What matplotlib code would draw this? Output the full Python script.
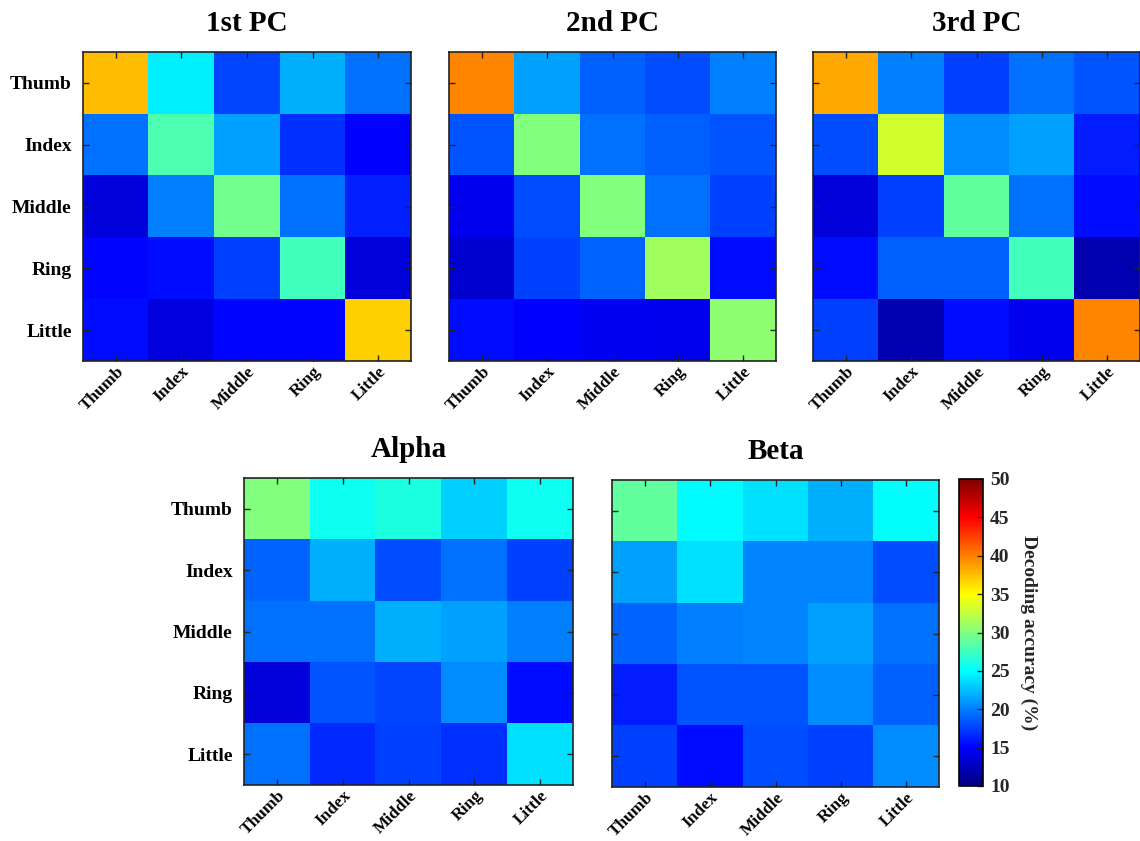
import numpy as np
import matplotlib
matplotlib.use('Agg')
import matplotlib.pyplot as plt
from matplotlib.colors import LinearSegmentedColormap, Normalize
import matplotlib.cm as cm

fingers = ['Thumb', 'Index', 'Middle', 'Ring', 'Little']

pc1 = [[37.5, 24.4, 17.8, 21.9, 19.4],
       [19.4, 28.1, 21.3, 16.9, 15.0],
       [13.7, 20.0, 29.4, 19.4, 16.3],
       [15.3, 15.6, 17.5, 27.5, 13.7],
       [15.5, 13.8, 15.2, 15.2, 36.8]]

pc2 = [[39.7, 21.3, 18.8, 18.1, 20.0],
       [18.4, 30.0, 19.4, 18.8, 18.4],
       [14.4, 18.1, 30.0, 19.4, 17.5],
       [13.2, 17.5, 19.0, 31.3, 15.6],
       [15.6, 15.0, 14.6, 14.4, 30.5]]

pc3 = [[38.3, 20.0, 17.5, 19.4, 18.4],
       [18.1, 33.2, 20.6, 21.3, 16.2],
       [13.7, 17.5, 28.8, 19.4, 15.6],
       [15.5, 18.8, 18.8, 27.5, 12.0],
       [17.5, 12.0, 15.5, 14.4, 39.7]]

alpha = [[30.0, 25.6, 26.2, 23.2, 25.6],
         [19.0, 21.9, 18.1, 19.4, 17.5],
         [19.4, 19.4, 21.9, 21.3, 20.0],
         [13.7, 18.4, 17.8, 20.6, 15.6],
         [19.4, 16.6, 17.5, 16.9, 23.8]]

beta = [[28.8, 24.9, 23.8, 21.9, 25.0],
        [21.3, 23.8, 20.3, 20.3, 18.1],
        [19.0, 20.0, 20.3, 21.3, 19.4],
        [16.2, 18.4, 18.4, 20.6, 18.8],
        [17.5, 15.6, 18.1, 17.5, 20.6]]

titles = ['1st PC', '2nd PC', '3rd PC', 'Alpha', 'Beta']
cbar_ticks = [10, 15, 20, 25, 30, 35, 40, 45, 50]
cbar_label = 'Decoding accuracy (%)'
vmin, vmax = 10, 50

# MATLAB-style jet
jet_m = LinearSegmentedColormap.from_list('jet_m', [
    (0.0, (0, 0, 0.5)), (0.125, (0, 0, 1)), (0.375, (0, 1, 1)),
    (0.625, (1, 1, 0)), (0.875, (1, 0, 0)), (1.0, (0.5, 0, 0))])

plt.rcParams['font.family'] = ['Liberation Serif', 'DejaVu Serif']
plt.rcParams['font.weight'] = 'bold'

W, H = 1140, 841
fig = plt.figure(figsize=(W / 100, H / 100), dpi=100)


def rect(x0, y0, x1, y1):
    return [x0 / W, 1 - y1 / H, (x1 - x0) / W, (y1 - y0) / H]


layout = [
    (pc1, (83, 52, 411, 361), True),
    (pc2, (449, 52, 776, 361), False),
    (pc3, (813, 52, 1140, 361), False),
    (alpha, (244, 478, 573, 785), True),
    (beta, (612, 480, 939, 787), False),
]

norm = Normalize(vmin=vmin, vmax=vmax)
for (data, r, ylab), title in zip(layout, titles):
    ax = fig.add_axes(rect(*r))
    ax.imshow(np.array(data), cmap=jet_m, norm=norm, aspect='auto',
              interpolation='nearest')
    ax.set_xticks(range(5))
    ax.set_yticks(range(5))
    ax.set_xticklabels(fingers, rotation=45, ha='right', va='top',
                       rotation_mode='anchor', fontsize=12.5,
                       fontweight='bold')
    if ylab:
        ax.set_yticklabels(fingers, fontsize=14, fontweight='bold')
    else:
        ax.set_yticklabels([])
    ax.tick_params(direction='in', length=4, width=1, top=True, right=True,
                   color='#222222')
    ax.tick_params(axis='x', pad=2)
    ax.tick_params(axis='y', pad=8)
    for s in ax.spines.values():
        s.set_linewidth(1.2)
        s.set_color('#222222')
    ax.set_title(title, fontsize=21, fontweight='bold', pad=15)

cax = fig.add_axes(rect(959, 479, 983, 786))
cb = fig.colorbar(cm.ScalarMappable(norm=norm, cmap=jet_m), cax=cax,
                  ticks=cbar_ticks)
cb.ax.tick_params(direction='in', length=4, width=1, labelsize=14,
                  labelcolor='#262626', pad=5, color='#222222')
for t in cb.ax.get_yticklabels():
    t.set_fontweight('bold')
cb.outline.set_linewidth(1.2)
cb.set_label(cbar_label, rotation=270, fontsize=14, fontweight='bold',
             labelpad=20, color='#262626')

fig.savefig('out.png', dpi=100)
